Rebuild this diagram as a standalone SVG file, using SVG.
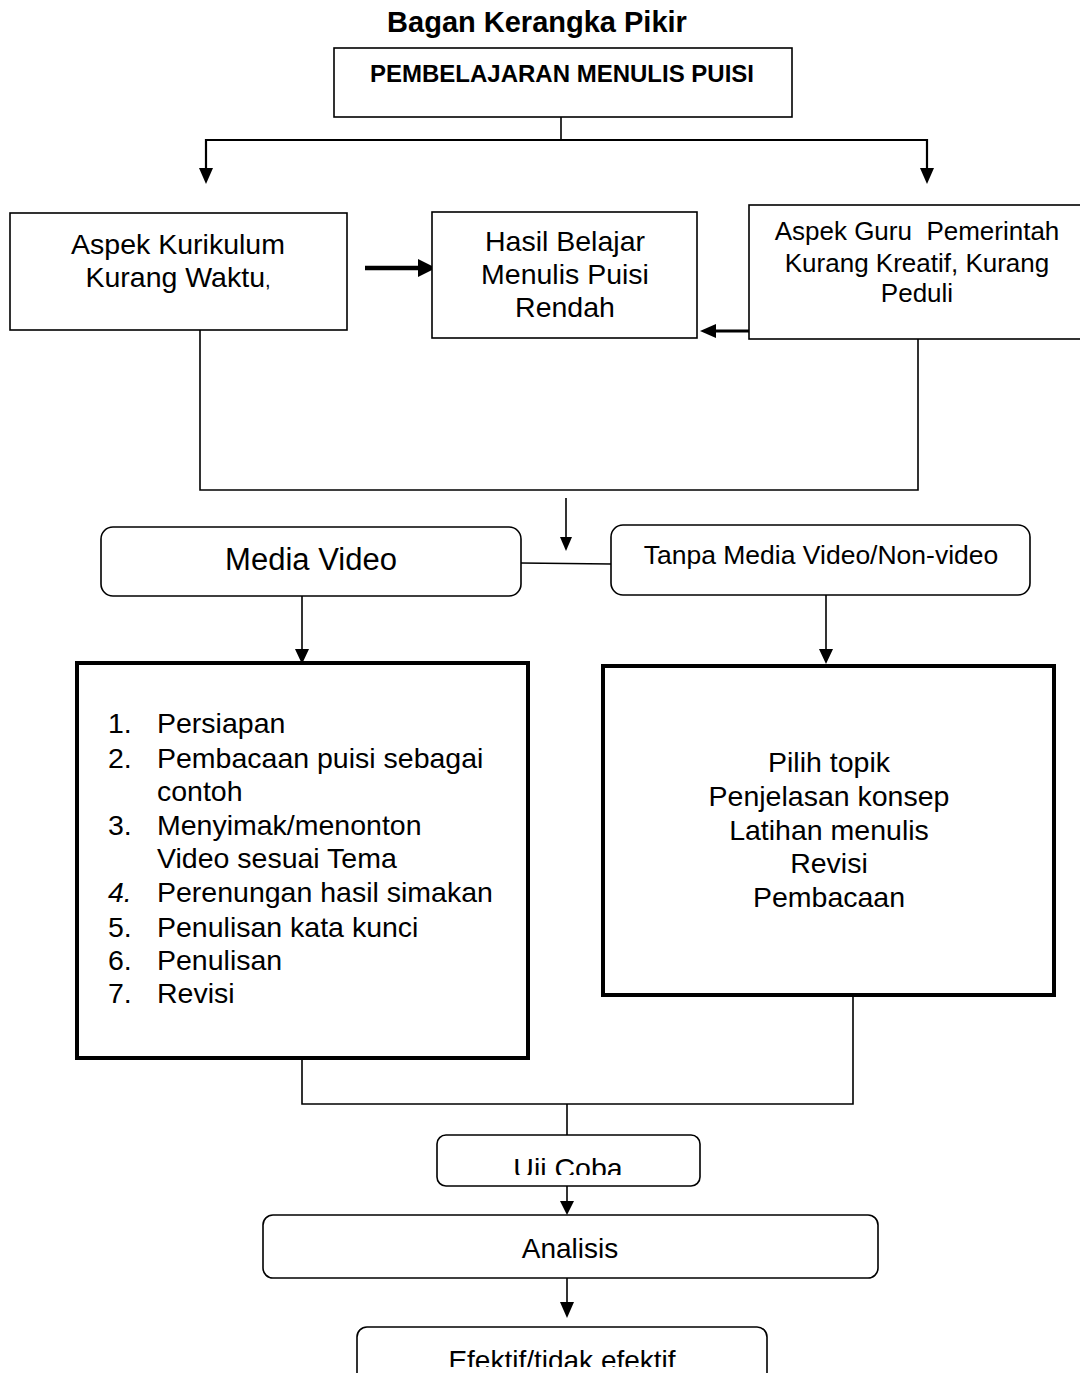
<svg xmlns="http://www.w3.org/2000/svg" width="1080" height="1373" viewBox="0 0 1080 1373">
<style>
text{font-family:"Liberation Sans",Arial,sans-serif;fill:#000}
.box{fill:#fff;stroke:#000;stroke-width:1.6}
.thick{fill:#fff;stroke:#000;stroke-width:4}
.c{stroke:#000;stroke-width:1.6;fill:none}
.c2{stroke:#000;stroke-width:2.2;fill:none}
.m{text-anchor:middle}
</style>
<defs>
<marker id="ah" markerWidth="10" markerHeight="10" refX="9" refY="5" orient="auto" markerUnits="userSpaceOnUse" viewBox="0 0 10 10">
<path d="M0,0 L10,5 L0,10 z" fill="#000"/>
</marker>
<clipPath id="clipUji"><rect x="437" y="1135" width="263" height="40"/></clipPath>
<clipPath id="clipEf"><rect x="357" y="1327" width="410" height="40"/></clipPath>
</defs>
<rect width="1080" height="1373" fill="#fff"/>
<text x="537" y="32" class="m" font-size="29" font-weight="bold">Bagan Kerangka Pikir</text>

<g id="connectors">
<line class="c" x1="561" y1="117" x2="561" y2="139"/>
<polyline class="c2" points="206,168 206,140 927,140 927,168"/>
<path d="M199,168 L213,168 L206,184 z"/>
<path d="M920,168 L934,168 L927,184 z"/>
<line x1="365" y1="268" x2="420" y2="268" stroke="#000" stroke-width="4.5"/>
<path d="M418,259 L436,268 L418,277 z"/>
<line x1="749" y1="331" x2="714" y2="331" stroke="#000" stroke-width="3"/>
<path d="M716,324 L700,331 L716,338 z"/>
<polyline class="c" points="200,330 200,490 918,490 918,339"/>
<line class="c" x1="566" y1="498" x2="566" y2="538"/>
<path d="M560,537 L572,537 L566,551 z"/>
<line class="c" x1="521" y1="563" x2="611" y2="564"/>
<line class="c" x1="302" y1="596" x2="302" y2="650"/>
<path d="M295,649 L309,649 L302,664 z"/>
<line class="c" x1="826" y1="595" x2="826" y2="650"/>
<path d="M819,649 L833,649 L826,664 z"/>
<polyline class="c" points="302,1058 302,1104 853,1104 853,995"/>
<line class="c" x1="567" y1="1104" x2="567" y2="1135"/>
<line class="c" x1="567" y1="1186" x2="567" y2="1203"/>
<path d="M560,1201 L574,1201 L567,1215 z"/>
<line class="c" x1="567" y1="1278" x2="567" y2="1303"/>
<path d="M560,1302 L574,1302 L567,1318 z"/>
</g>

<g id="n-top">
<rect class="box" x="334" y="48" width="458" height="69" stroke-width="2"/>
<text x="562" y="82" class="m" font-size="24" font-weight="bold">PEMBELAJARAN MENULIS PUISI</text>
</g>

<g id="n-kurikulum">
<rect class="box" x="10" y="213" width="337" height="117"/>
<text x="178" y="254" class="m" font-size="28.5">Aspek Kurikulum</text>
<text x="178" y="287" class="m" font-size="28.5">Kurang Waktu<tspan font-size="20">,</tspan></text>
</g>

<g id="n-hasil">
<rect class="box" x="432" y="212" width="265" height="126"/>
<text x="565" y="251" class="m" font-size="28.5">Hasil Belajar</text>
<text x="565" y="284" class="m" font-size="28.5">Menulis Puisi</text>
<text x="565" y="317" class="m" font-size="28.5">Rendah</text>
</g>

<g id="n-guru">
<rect class="box" x="749" y="205" width="340" height="134"/>
<text x="917" y="240" class="m" font-size="26" xml:space="preserve">Aspek Guru  Pemerintah</text>
<text x="917" y="272" class="m" font-size="26">Kurang Kreatif, Kurang</text>
<text x="917" y="302" class="m" font-size="26">Peduli</text>
</g>

<g id="n-media">
<rect class="box" x="101" y="527" width="420" height="69" rx="12"/>
<text x="311" y="570" class="m" font-size="31">Media Video</text>
</g>

<g id="n-tanpa">
<rect class="box" x="611" y="525" width="419" height="70" rx="12"/>
<text x="821" y="564" class="m" font-size="26.5">Tanpa Media Video/Non-video</text>
</g>

<g id="n-list">
<rect class="thick" x="77" y="663" width="451" height="395"/>
<g font-size="28.5">
<text x="108" y="733">1.</text><text x="157" y="733">Persiapan</text>
<text x="108" y="768">2.</text><text x="157" y="768">Pembacaan puisi sebagai</text>
<text x="157" y="801">contoh</text>
<text x="108" y="835">3.</text><text x="157" y="835">Menyimak/menonton</text>
<text x="157" y="868">Video sesuai Tema</text>
<text x="108" y="902" font-style="italic">4.</text><text x="157" y="902">Perenungan hasil simakan</text>
<text x="108" y="937">5.</text><text x="157" y="937">Penulisan kata kunci</text>
<text x="108" y="970">6.</text><text x="157" y="970">Penulisan</text>
<text x="108" y="1003">7.</text><text x="157" y="1003">Revisi</text>
</g>
</g>

<g id="n-nonvideo">
<rect class="thick" x="603" y="666" width="451" height="329"/>
<g font-size="28.5" class="m">
<text x="829" y="772">Pilih topik</text>
<text x="829" y="806">Penjelasan konsep</text>
<text x="829" y="840">Latihan menulis</text>
<text x="829" y="873">Revisi</text>
<text x="829" y="907">Pembacaan</text>
</g>
</g>

<g id="n-uji">
<rect class="box" x="437" y="1135" width="263" height="51" rx="9"/>
<text x="568" y="1178" class="m" font-size="28.5" clip-path="url(#clipUji)">Uji Coba</text>
</g>

<g id="n-analisis">
<rect class="box" x="263" y="1215" width="615" height="63" rx="10"/>
<text x="570" y="1258" class="m" font-size="28">Analisis</text>
</g>

<g id="n-efektif">
<rect class="box" x="357" y="1327" width="410" height="60" rx="10"/>
<text x="562" y="1370" class="m" font-size="28" clip-path="url(#clipEf)">Efektif/tidak efektif</text>
</g>
</svg>
